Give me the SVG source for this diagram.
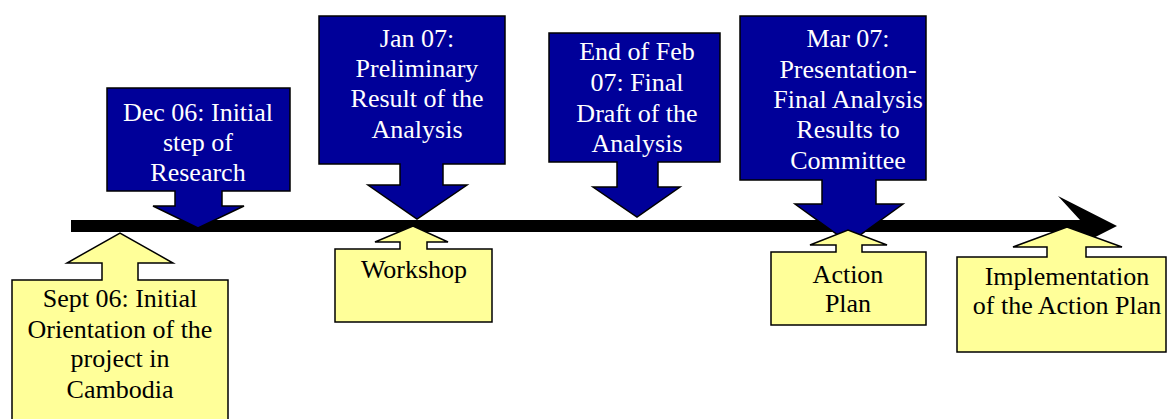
<svg xmlns="http://www.w3.org/2000/svg" width="1168" height="419" viewBox="0 0 1168 419">
  <style>
    .down { fill: #000099; stroke: #000000; stroke-width: 1.5; stroke-linejoin: miter; }
    .up { fill: #FFFF99; stroke: #000000; stroke-width: 1.5; stroke-linejoin: miter; }
    text { font-family: "Liberation Serif", "Times New Roman", serif; font-size: 26px; text-anchor: middle; }
    .light { fill: #FFFFFF; }
    .dark { fill: #000000; }
  </style>
  <rect width="1168" height="419" fill="#FFFFFF"/>

  <!-- timeline axis -->
  <g id="connectors">
    <path d="M71,220 H1080 L1058,196 L1117,226 L1058,256 L1080,232 H71 Z" fill="#000000"/>
  </g>

  <g id="dec06">
    <path class="down" d="M107,88 H290 V191 H222 V206 H244 L198,228 L153,206 H175 V191 H107 Z"/>
    <text class="light" x="198" y="121">Dec 06: Initial</text>
    <text class="light" x="198" y="151">step of</text>
    <text class="light" x="198" y="181">Research</text>
  </g>

  <g id="jan07">
    <path class="down" d="M319,16 H505 V164 H443 V185 H467 L417,219 L368,185 H400 V164 H319 Z"/>
    <text class="light" x="417" y="47">Jan 07:</text>
    <text class="light" x="417" y="77">Preliminary</text>
    <text class="light" x="417" y="107">Result of the</text>
    <text class="light" x="417" y="138">Analysis</text>
  </g>

  <g id="feb07">
    <path class="down" d="M549,33 H720 V162 H658 V187 H680 L637,217 L593,187 H617 V162 H549 Z"/>
    <text class="light" x="637" y="60">End of Feb</text>
    <text class="light" x="637" y="91">07: Final</text>
    <text class="light" x="637" y="122">Draft of the</text>
    <text class="light" x="637" y="152">Analysis</text>
  </g>

  <g id="mar07">
    <path class="down" d="M740,16 H926 V180 H876 V204 H903 L849,243 L795,204 H822 V180 H740 Z"/>
    <text class="light" x="848" y="47">Mar 07:</text>
    <text class="light" x="848" y="78">Presentation-</text>
    <text class="light" x="848" y="108">Final Analysis</text>
    <text class="light" x="848" y="138">Results to</text>
    <text class="light" x="848" y="169">Committee</text>
  </g>

  <g id="sept06">
    <path class="up" d="M12,430 V280 H102 V263 H67 L120,233 L173,263 H138 V280 H228 V430 Z"/>
    <text class="dark" x="120" y="307">Sept 06: Initial</text>
    <text class="dark" x="120" y="338">Orientation of the</text>
    <text class="dark" x="120" y="367">project in</text>
    <text class="dark" x="120" y="398">Cambodia</text>
  </g>

  <g id="workshop">
    <path class="up" d="M335,322 V249 H400 V242 H375 L413,226 L448,242 H427 V249 H492 V322 Z"/>
    <text class="dark" x="414" y="278">Workshop</text>
  </g>

  <g id="action-plan">
    <path class="up" d="M771,325 V252 H836 V245 H810 L848,230 L887,245 H862 V252 H926 V325 Z"/>
    <text class="dark" x="848" y="283">Action</text>
    <text class="dark" x="848" y="312">Plan</text>
  </g>

  <g id="implementation">
    <path class="up" d="M957,352 V257 H1047 V247 H1013 L1067,227 L1122,247 H1086 V257 H1166 V352 Z"/>
    <text class="dark" x="1067" y="285">Implementation</text>
    <text class="dark" x="1067" y="314">of the Action Plan</text>
  </g>
</svg>
